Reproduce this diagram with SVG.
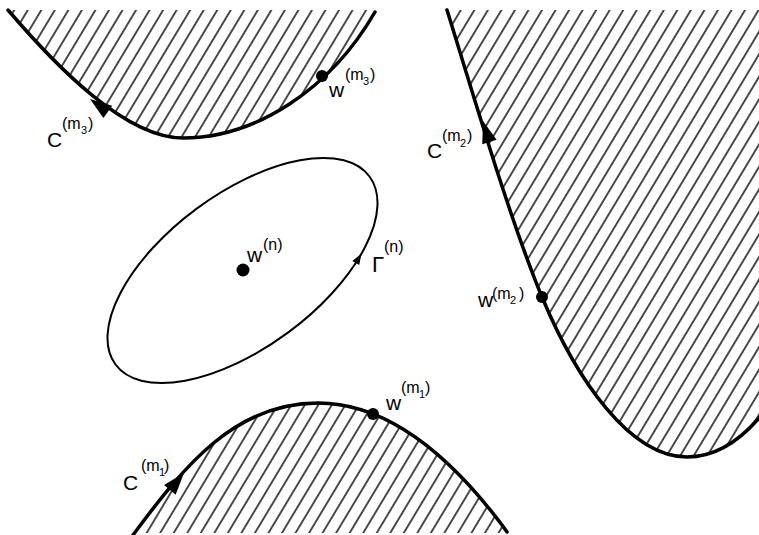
<svg xmlns="http://www.w3.org/2000/svg" width="759" height="535" viewBox="0 0 759 535">
<style>
.bd{fill:none;stroke:#000;stroke-width:3.5;stroke-linecap:round;stroke-linejoin:round}
.hf{fill:url(#hatch);stroke:none}
.el{fill:none;stroke:#000;stroke-width:2}
.dot{fill:#000}
.ah{fill:#000}
text{font-family:"Liberation Sans",Arial,sans-serif;fill:#000}
.b{font-size:21px}
.s{font-size:16px}
.ss{font-size:11px}
</style>
<defs>
<pattern id="hatch" patternUnits="userSpaceOnUse" width="11.6" height="20" patternTransform="rotate(31)">
<line x1="5.8" y1="-1" x2="5.8" y2="21" stroke="#000" stroke-width="1.4"/>
</pattern>
<path id="arrowBig" d="M0,0 L-22,-7.5 L-22,7.5 Z"/>
<path id="arrowSmall" d="M0,0 L-11,-4 L-11,4 Z"/>
</defs>
<rect width="759" height="535" fill="#fff"/>

<g id="region-m3">
<path class="hf" d="M8,10 C55,65 125,138 183,138 C255,138 330,90 375,12 L375,10 Z"/>
<path class="bd" d="M8,10 C55,65 125,138 183,138 C255,138 330,90 375,12"/>
<use href="#arrowBig" class="ah" transform="translate(90,99) rotate(216)"/>
<circle class="dot" cx="322" cy="76" r="6"/>
<text class="b"><tspan x="47" y="147">C</tspan><tspan class="s" x="62" y="129">(m</tspan><tspan class="ss" x="81" y="134">3</tspan><tspan class="s" x="88" y="129">)</tspan></text>
<text class="b"><tspan x="329" y="97">w</tspan><tspan class="s" x="345" y="80">(m</tspan><tspan class="ss" x="363" y="85">3</tspan><tspan class="s" x="370" y="80">)</tspan></text>
</g>

<g id="region-m2">
<path class="hf" d="M447,10 C475,100 510,220 542,297 C576.6,380 630,457 687,457 C715,457 740,440 759,418 L759,10 Z"/>
<path class="bd" d="M447,10 C475,100 510,220 542,297 C576.6,380 630,457 687,457 C715,457 740,440 759,418 L765,411"/>
<use href="#arrowBig" class="ah" transform="translate(483,121) rotate(-107)"/>
<circle class="dot" cx="542" cy="297" r="6"/>
<text class="b"><tspan x="427" y="158">C</tspan><tspan class="s" x="442" y="141">(m</tspan><tspan class="ss" x="460" y="147">2</tspan><tspan class="s" x="467" y="141">)</tspan></text>
<text class="b"><tspan x="478" y="307">w</tspan><tspan class="s" x="492" y="299">(m</tspan><tspan class="ss" x="510" y="304">2</tspan><tspan class="s" x="519" y="299">)</tspan></text>
</g>

<g id="region-m1">
<path class="hf" d="M133,535 C185,465 235,403 318,403 Q410,403 502,525 L507,533 L133,533 Z"/>
<path class="bd" d="M133,535 C185,465 235,403 318,403 Q410,403 502,525 L507,532"/>
<use href="#arrowBig" class="ah" transform="translate(184,473) rotate(-50)"/>
<circle class="dot" cx="373" cy="414" r="6"/>
<text class="b"><tspan x="123" y="490">C</tspan><tspan class="s" x="141" y="471">(m</tspan><tspan class="ss" x="159" y="476">1</tspan><tspan class="s" x="164" y="471">)</tspan></text>
<text class="b"><tspan x="386" y="410">w</tspan><tspan class="s" x="401" y="393">(m</tspan><tspan class="ss" x="419" y="398">1</tspan><tspan class="s" x="425" y="393">)</tspan></text>
</g>

<g id="contour-n">
<ellipse class="el" cx="242.5" cy="270.5" rx="158" ry="77" transform="rotate(-36.5 242.5 270.5)"/>
<use href="#arrowSmall" class="ah" transform="translate(361.5,253.6) rotate(-58.7)"/>
<text class="b"><tspan x="372" y="272" font-size="22">Γ</tspan><tspan class="s" x="384" y="252">(n)</tspan></text>
</g>

<g id="point-n">
<circle class="dot" cx="243" cy="270" r="6.5"/>
<text class="b"><tspan x="247" y="262">w</tspan><tspan class="s" x="263" y="250">(n)</tspan></text>
</g>

<g id="connectors"></g>
</svg>
